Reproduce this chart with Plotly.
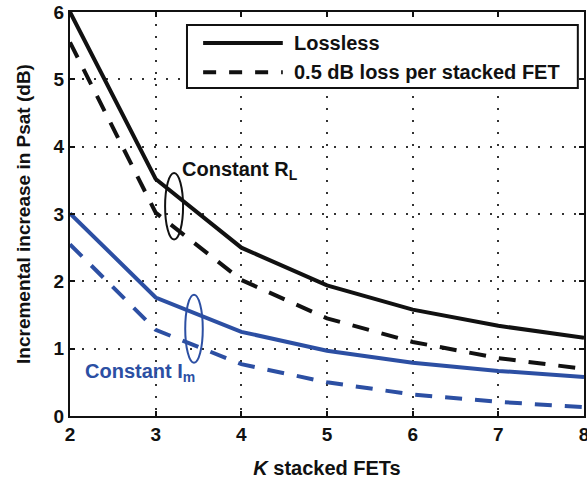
import plotly.graph_objects as go

k_fets = [2, 3, 4, 5, 6, 7, 8]
rl_lossless = [6.0, 3.52, 2.50, 1.94, 1.58, 1.34, 1.16]
rl_lossy = [5.55, 3.02, 2.02, 1.45, 1.10, 0.86, 0.70]
im_lossless = [3.01, 1.76, 1.25, 0.97, 0.79, 0.67, 0.58]
im_lossy = [2.55, 1.28, 0.77, 0.50, 0.32, 0.21, 0.13]
legend_names = ["Lossless", "0.5 dB loss per stacked FET"]

BLACK = "#111111"
BLUE = "#2c4fa3"
FONT = "Liberation Sans, Arial, sans-serif"
DASH = "17px,13px"

fig = go.Figure()
fig.add_trace(go.Scatter(x=k_fets, y=rl_lossless, mode="lines", showlegend=False,
                         line=dict(color=BLACK, width=4)))
fig.add_trace(go.Scatter(x=k_fets, y=rl_lossy, mode="lines", showlegend=False,
                         line=dict(color=BLACK, width=4, dash=DASH)))
fig.add_trace(go.Scatter(x=k_fets, y=im_lossless, mode="lines", showlegend=False,
                         line=dict(color=BLUE, width=4)))
fig.add_trace(go.Scatter(x=k_fets, y=im_lossy, mode="lines", showlegend=False,
                         line=dict(color=BLUE, width=4, dash=DASH)))

# ellipses marking the groups
fig.add_shape(type="circle", xref="x", yref="y", x0=3.11, x1=3.32, y0=2.62, y1=3.61,
              line=dict(color=BLACK, width=2))
fig.add_shape(type="circle", xref="x", yref="y", x0=3.345, x1=3.55, y0=0.79, y1=1.80,
              line=dict(color=BLUE, width=2))

fig.add_annotation(x=3.28, y=3.65, xref="x", yref="y", showarrow=False,
                   text="Constant R<sub>L</sub>", xanchor="left", yanchor="middle",
                   font=dict(family=FONT, size=20, color=BLACK, weight="bold"))
fig.add_annotation(x=2.15, y=0.64, xref="x", yref="y", showarrow=False,
                   text="Constant I<sub>m</sub>", xanchor="left", yanchor="middle",
                   font=dict(family=FONT, size=20, color=BLUE, weight="bold"))

# custom legend box (long line samples as in the reference)
fig.add_shape(type="rect", xref="paper", yref="paper", x0=0.2276, x1=0.988, y0=0.812, y1=0.968,
              line=dict(color=BLACK, width=2), fillcolor="white", layer="above")
fig.add_shape(type="line", xref="paper", yref="paper", x0=0.259, x1=0.414, y0=0.923, y1=0.923,
              line=dict(color=BLACK, width=4), layer="above")
fig.add_shape(type="line", xref="paper", yref="paper", x0=0.259, x1=0.414, y0=0.851, y1=0.851,
              line=dict(color=BLACK, width=4, dash="13px,13px"), layer="above")
fig.add_annotation(x=0.432, y=0.923, xref="paper", yref="paper", showarrow=False,
                   text=legend_names[0], xanchor="left", yanchor="middle",
                   font=dict(family=FONT, size=20, color=BLACK, weight="bold"))
fig.add_annotation(x=0.432, y=0.851, xref="paper", yref="paper", showarrow=False,
                   text=legend_names[1], xanchor="left", yanchor="middle",
                   font=dict(family=FONT, size=20, color=BLACK, weight="bold"))

axis_common = dict(
    showline=True, linecolor=BLACK, linewidth=2, mirror="ticks",
    ticks="inside", ticklen=5, tickwidth=2, tickcolor=BLACK,
    showgrid=True, gridcolor="#333333", gridwidth=2, griddash="2px,10px",
    zeroline=False, automargin=False, ticklabeloverflow="allow",
    tickfont=dict(family=FONT, size=19, color=BLACK, weight="bold"),
)

fig.update_xaxes(range=[2, 8], dtick=1, **axis_common,
                 title=dict(text="<i>K</i> stacked FETs", standoff=21,
                            font=dict(family=FONT, size=20, color=BLACK, weight="bold")))
fig.update_yaxes(range=[0, 6], dtick=1, **axis_common,
                 title=dict(text="Incremental increase in Psat (dB)", standoff=18,
                            font=dict(family=FONT, size=19, color=BLACK, weight="bold")))

fig.update_layout(
    width=587, height=479,
    margin=dict(l=70, r=3, t=12, b=63),
    paper_bgcolor="white", plot_bgcolor="white",
    showlegend=False,
)

# remove the browser's default 8px body margin so the figure sits at the page origin
fig.write_html("out.html", config={"displayModeBar": False},
               post_script="document.body.style.margin='0';")
